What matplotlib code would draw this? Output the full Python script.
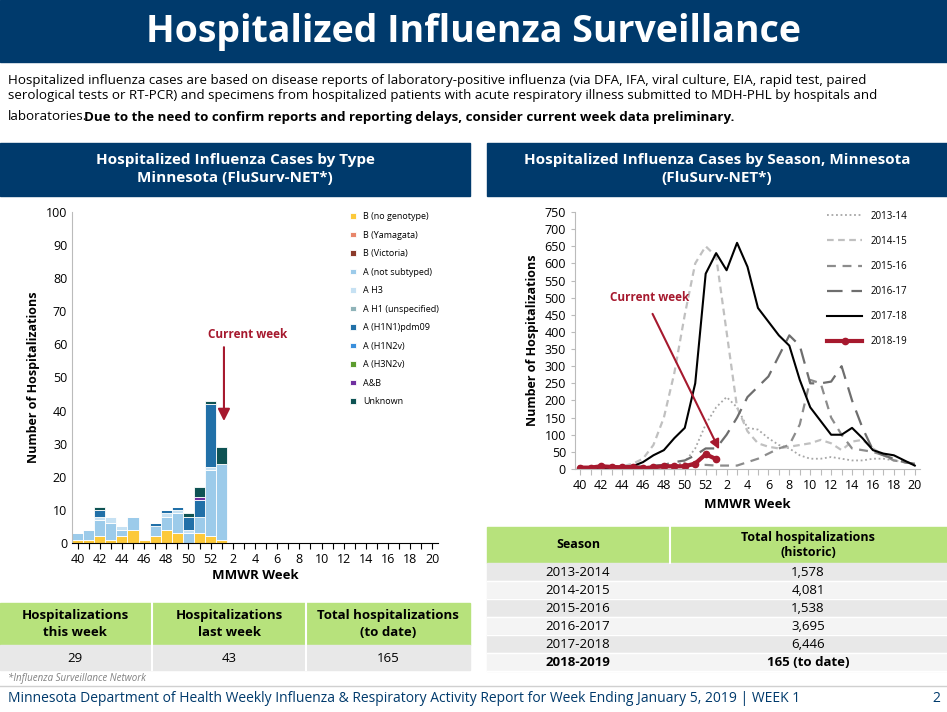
import matplotlib
matplotlib.use("Agg")
import matplotlib.pyplot as plt
from matplotlib.patches import Rectangle
import numpy as np

plt.rcParams['font.family'] = ['Open Sans', 'DejaVu Sans']

weeks = list(range(40, 53)) + list(range(1, 21))
tick_labels = [str(w) if w % 2 == 0 else "" for w in weeks]

# Left chart: stacked cases by type, weeks 40..1
bar_weeks = list(range(40, 53)) + [1]
b_nogeno = [1, 1, 2, 1, 2, 4, 1, 2, 4, 3, 0, 3, 2, 1]
b_yam    = [0]*14
b_vic    = [0]*14
a_ns     = [2, 3, 5, 5, 2, 4, 0, 3, 4, 6, 3, 5, 20, 23]
a_h3     = [0, 0, 1, 2, 1, 0, 0, 0, 1, 1, 1, 0, 1, 0]
a_h1     = [0]*14
a_pdm    = [0, 0, 2, 0, 0, 0, 0, 1, 1, 1, 4, 5, 19, 0]
a_h1n2v  = [0]*14
a_h3n2v  = [0]*14
a_b      = [0, 0, 0, 0, 0, 0, 0, 0, 0, 0, 0, 1, 0, 0]
unknown  = [0, 0, 1, 0, 0, 0, 0, 0, 0, 0, 1, 3, 1, 5]
series = [("B (no genotype)", b_nogeno, "#fcc93a"), ("B (Yamagata)", b_yam, "#e8866a"),
          ("B (Victoria)", b_vic, "#8b3a2a"), ("A (not subtyped)", a_ns, "#9ccbea"),
          ("A H3", a_h3, "#c6e1f3"), ("A H1 (unspecified)", a_h1, "#8fb3b8"),
          ("A (H1N1)pdm09", a_pdm, "#2170a8"), ("A (H1N2v)", a_h1n2v, "#3a8fdc"),
          ("A (H3N2v)", a_h3n2v, "#5c9c2e"), ("A&B", a_b, "#7030a0"),
          ("Unknown", unknown, "#0e5354")]

# Right chart: by season
s1314 = [2,2,3,3,3,3,4,5,6,10,20,60,130,180,210,180,120,115,90,70,60,40,30,30,35,30,25,25,30,30,25,20,15]
s1415 = [2,3,4,5,8,15,30,70,150,280,450,600,650,620,400,180,110,75,65,60,65,70,75,85,75,55,80,85,60,40,25,20,15]
s1516 = [3,3,3,4,4,5,5,6,6,7,8,10,12,10,10,10,20,30,45,60,70,130,260,250,150,100,60,55,50,40,25,20,15]
s1617 = [3,4,4,5,5,6,8,10,12,20,25,40,60,60,100,150,210,240,270,330,390,360,250,250,255,300,200,120,55,40,30,20,15]
s1718 = [2,3,3,3,5,8,20,40,55,90,120,250,570,630,580,660,590,470,430,390,360,260,180,140,100,100,120,90,55,45,40,25,10]
s1819 = [4,4,8,6,5,6,2,5,8,8,8,16,43,29]

W, H = 947, 712
fig = plt.figure(figsize=(W/100, H/100), dpi=100)
navy = "#003a6c"

def box(x0, y0, x1, y1, color, **kw):
    fig.patches.append(Rectangle((x0/W, 1-y1/H), (x1-x0)/W, (y1-y0)/H,
                                 transform=fig.transFigure, color=color, zorder=0, **kw))
def txt(x, y, s, **kw):
    fig.text(x/W, 1-y/H, s, **kw)

box(0, 0, 947, 62, navy)
txt(473, 32, "Hospitalized Influenza Surveillance", color="white", fontsize=27, fontweight="bold", ha="center", va="center")
txt(8, 88, "Hospitalized influenza cases are based on disease reports of laboratory-positive influenza (via DFA, IFA, viral culture, EIA, rapid test, paired\n"
    "serological tests or RT-PCR) and specimens from hospitalized patients with acute respiratory illness submitted to MDH-PHL by hospitals and",
    fontsize=9.6, va="center", linespacing=1.25)
txt(8, 117, "laboratories.", fontsize=9.6, va="center")
txt(84, 117, "Due to the need to confirm reports and reporting delays, consider current week data preliminary.", fontsize=9.6, va="center", fontweight="bold")

box(0, 143, 470, 196, navy)
txt(235, 169, "Hospitalized Influenza Cases by Type\nMinnesota (FluSurv-NET*)", color="white", fontsize=11, fontweight="bold", ha="center", va="center", linespacing=1.4)
box(487, 143, 947, 196, navy)
txt(717, 169, "Hospitalized Influenza Cases by Season, Minnesota\n(FluSurv-NET*)", color="white", fontsize=11, fontweight="bold", ha="center", va="center", linespacing=1.4)

x_all = np.arange(len(weeks))

# left chart
ax = fig.add_axes([72/W, 1-543/H, 366/W, 331/H])
xb = np.arange(len(bar_weeks))
bottom = np.zeros(len(bar_weeks))
for name, vals, col in series:
    v = np.array(vals)
    ax.bar(xb, v, bottom=bottom, width=1.0, color=col, edgecolor="white", linewidth=0.6, label=name)
    bottom += v
ax.set_xlim(-0.5, 32.5); ax.set_ylim(0, 100)
ax.set_yticks(range(0, 101, 10))
ax.set_xticks(x_all); ax.set_xticklabels(tick_labels)
for s in ["top", "right"]: ax.spines[s].set_visible(False)
ax.spines["left"].set_color("#bbbbbb"); ax.spines["bottom"].set_color("black")
ax.tick_params(axis="y", length=0, labelsize=9)
ax.tick_params(axis="x", length=4, labelsize=9)
ax.set_ylabel("Number of Hospitalizations", fontsize=9, fontweight="bold")
ax.set_xlabel("MMWR Week", fontsize=9.5, fontweight="bold", labelpad=2)
ax.legend(loc="upper left", bbox_to_anchor=(0.75, 1.01), frameon=False, fontsize=6.5,
          handlelength=0.6, handleheight=0.6, labelspacing=1.05, borderaxespad=0)
ax.annotate("", xy=(13.2, 36), xytext=(13.2, 60),
            arrowprops=dict(arrowstyle="-|>", color="#a6192e", lw=1.5, mutation_scale=18))
ax.text(15.3, 62, "Current week", color="#a6192e", fontsize=8.5, fontweight="bold", ha="center")

# right chart
ax2 = fig.add_axes([575/W, 1-469/H, 345/W, 257/H])
ax2.plot(x_all, s1314, color="#a6a6a6", lw=1.3, ls=(0, (1, 1.5)), label="2013-14")
ax2.plot(x_all, s1415, color="#c0c0c0", lw=1.6, ls=(0, (3, 2)), label="2014-15")
ax2.plot(x_all, s1516, color="#8c8c8c", lw=1.6, ls=(0, (4, 3)), label="2015-16")
ax2.plot(x_all, s1617, color="#6e6e6e", lw=1.6, ls=(0, (7, 4)), label="2016-17")
ax2.plot(x_all, s1718, color="black", lw=1.5, label="2017-18")
ax2.plot(np.arange(len(s1819)), s1819, color="#a6192e", lw=3, marker="o", ms=4.5, label="2018-19")
ax2.set_xlim(-0.5, 32.5); ax2.set_ylim(0, 750)
ax2.set_yticks(range(0, 751, 50))
ax2.set_xticks(x_all); ax2.set_xticklabels(tick_labels)
for s in ["top", "right"]: ax2.spines[s].set_visible(False)
ax2.spines["left"].set_color("#bbbbbb"); ax2.spines["bottom"].set_color("#bbbbbb")
ax2.tick_params(axis="y", length=3, labelsize=9, color="#bbbbbb")
ax2.tick_params(axis="x", length=4, labelsize=9, color="#bbbbbb")
ax2.set_ylabel("Number of Hospitalizations", fontsize=9, fontweight="bold")
ax2.set_xlabel("MMWR Week", fontsize=9.5, fontweight="bold", labelpad=4)
ax2.legend(loc="upper left", bbox_to_anchor=(0.72, 1.02), frameon=False, fontsize=7,
           handlelength=3.6, labelspacing=1.45, borderaxespad=0)
ax2.annotate("", xy=(13.4, 50), xytext=(6.8, 460),
             arrowprops=dict(arrowstyle="-|>", color="#a6192e", lw=1.5, mutation_scale=14))
ax2.text(6.6, 490, "Current week", color="#a6192e", fontsize=8.5, fontweight="bold", ha="center")

green = "#b7e27c"; gray = "#e8e8e8"
# left table
box(0, 603, 470, 645, green)
box(0, 645, 470, 670, gray)
for xl in [152, 306]:
    fig.add_artist(plt.Line2D([xl/W, xl/W], [1-670/H, 1-603/H], color="white", lw=1.5))
for cx, h, v in [(75, "Hospitalizations\nthis week", "29"), (229, "Hospitalizations\nlast week", "43"),
                 (388, "Total hospitalizations\n(to date)", "165")]:
    txt(cx, 624, h, fontsize=9.5, fontweight="bold", ha="center", va="center", linespacing=1.3)
    txt(cx, 658, v, fontsize=9.5, ha="center", va="center")

# right table
seasons = ["2013-2014", "2014-2015", "2015-2016", "2016-2017", "2017-2018", "2018-2019"]
totals = ["1,578", "4,081", "1,538", "3,695", "6,446", "165 (to date)"]
box(487, 527, 947, 563, green)
fig.add_artist(plt.Line2D([670/W, 670/W], [1-563/H, 1-527/H], color="white", lw=1.5))
txt(578, 545, "Season", fontsize=9, fontweight="bold", ha="center", va="center")
txt(808, 545, "Total hospitalizations\n(historic)", fontsize=9, fontweight="bold", ha="center", va="center", linespacing=1.2)
for i, (s, t) in enumerate(zip(seasons, totals)):
    y0 = 563 + i*18
    box(487, y0, 947, y0+18, gray if i % 2 == 0 else "#f4f4f4")
    fig.add_artist(plt.Line2D([487/W, 947/W], [1-(y0+18)/H]*2, color="white", lw=1))
    fw = "bold" if i == len(seasons)-1 else "normal"
    txt(578, y0+9, s, fontsize=9.5, ha="center", va="center", fontweight=fw)
    txt(808, y0+9, t, fontsize=9.5, ha="center", va="center", fontweight=fw)

txt(8, 678, "*Influenza Surveillance Network", fontsize=7, style="italic", color="#808080", va="center")
fig.add_artist(plt.Line2D([0, 1], [1-686/H]*2, color="#d0d0d0", lw=1))
txt(8, 698, "Minnesota Department of Health Weekly Influenza & Respiratory Activity Report for Week Ending January 5, 2019 | WEEK 1",
    fontsize=10, color=navy, va="center")
txt(940, 698, "2", fontsize=10, color=navy, va="center", ha="right")

fig.savefig("out.png", dpi=100)
